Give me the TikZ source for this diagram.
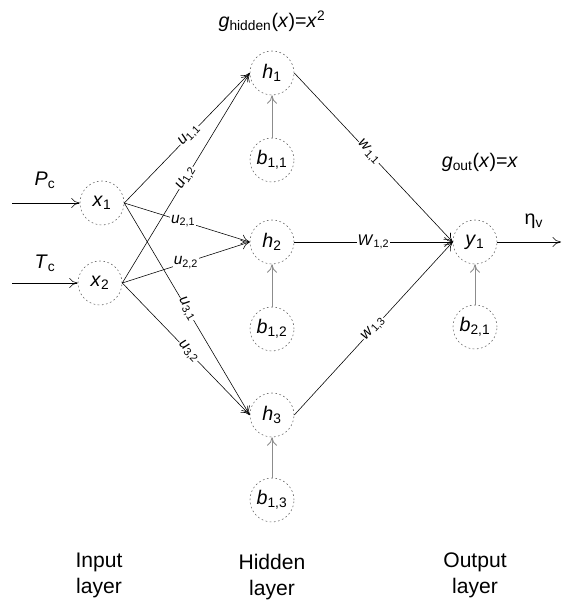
\documentclass[tikz,border=0pt]{standalone}
\usepackage{fontspec}
\setmainfont{Liberation Sans}
\usetikzlibrary{arrows.meta,positioning}
\newcommand{\nlab}[2]{\textit{#1}\textsubscript{#2}}

\begin{document}
\begin{tikzpicture}[x=0.025cm,y=-0.025cm,>={To[length=6pt,width=7pt]},
  font=\fontsize{14}{16}\selectfont,
  neuron/.style={circle,draw=black!60,dash pattern=on 1.2pt off 1.8pt,minimum size=1.1cm,inner sep=0pt},
  link/.style={->,black,thin},
  biaslink/.style={->,black!45,semithick},
  wlab/.style={fill=white,inner sep=0.5pt,font=\fontsize{11}{13}\selectfont}]
  \useasboundingbox (0,0) rectangle (562,603);
  % input layer
  \node[neuron] (x1) at (102,203) {\nlab{x}{1}};
  \node[neuron] (x2) at (100,283) {\nlab{x}{2}};
  \coordinate (inP) at (12,203);
  \coordinate (inT) at (12,283);
  \draw[link] (inP) -- (x1.west);
  \draw[link] (inT) -- (x2.west);
  \node (labP) at (45,180) {\nlab{P}{c}};
  \node (labT) at (45,263) {\nlab{T}{c}};
  % hidden layer with biases
  \foreach \i/\yh/\yb in {1/73/160, 2/242/329, 3/415/500}{
    \node[neuron] (h\i) at (272,\yh) {\nlab{h}{\i}};
    \node[neuron] (b1\i) at (272,\yb) {\nlab{b}{1,\i}};
    \draw[biaslink] (b1\i) -- (h\i);
  }
  \node (gHid) at (272,21) {\textit{g}\textsubscript{hidden}(\textit{x})=\textit{x}\textsuperscript{2}};
  % output layer
  \node[neuron] (y1) at (475,242) {\nlab{y}{1}};
  \node[neuron] (b21) at (475,327) {\nlab{b}{2,1}};
  \draw[biaslink] (b21) -- (y1);
  \node (gOut) at (480,162) {\textit{g}\textsubscript{out}(\textit{x})=\textit{x}};
  \coordinate (outY) at (561,242);
  \draw[link] (y1.east) -- (outY);
  \node (labEta) at (534,221) {η\textsubscript{v}};
  % input -> hidden
  \draw[link] (x1.east) -- node[wlab,sloped,pos=0.52] {\nlab{u}{1,1}} (h1.west);
  \draw[link] (x2.east) -- node[wlab,sloped,pos=0.5] {\nlab{u}{1,2}} (h1.west);
  \draw[link] (x1.east) -- node[wlab,pos=0.47] {\nlab{u}{2,1}} (h2.west);
  \draw[link] (x2.east) -- node[wlab] {\nlab{u}{2,2}} (h2.west);
  \draw[link] (x1.east) -- node[wlab,sloped,pos=0.5] {\nlab{u}{3,1}} (h3.west);
  \draw[link] (x2.east) -- node[wlab,sloped,pos=0.52] {\nlab{u}{3,2}} (h3.west);
  % hidden -> output
  \draw[link] (h1.east) -- node[wlab,sloped,pos=0.47] {\nlab{w}{1,1}} (y1.west);
  \draw[link] (h2.east) -- node[wlab] {\nlab{W}{1,2}} (y1.west);
  \draw[link] (h3.east) -- node[wlab,sloped] {\nlab{w}{1,3}} (y1.west);
  % layer names
  \node[align=center,font=\fontsize{15}{18.5}\selectfont] (labIn) at (99,575) {Input\\layer};
  \node[align=center,font=\fontsize{15}{18.5}\selectfont] (labHid) at (272,577) {Hidden\\layer};
  \node[align=center,font=\fontsize{15}{18.5}\selectfont] (labOut) at (475,575) {Output\\layer};
\end{tikzpicture}
\end{document}
